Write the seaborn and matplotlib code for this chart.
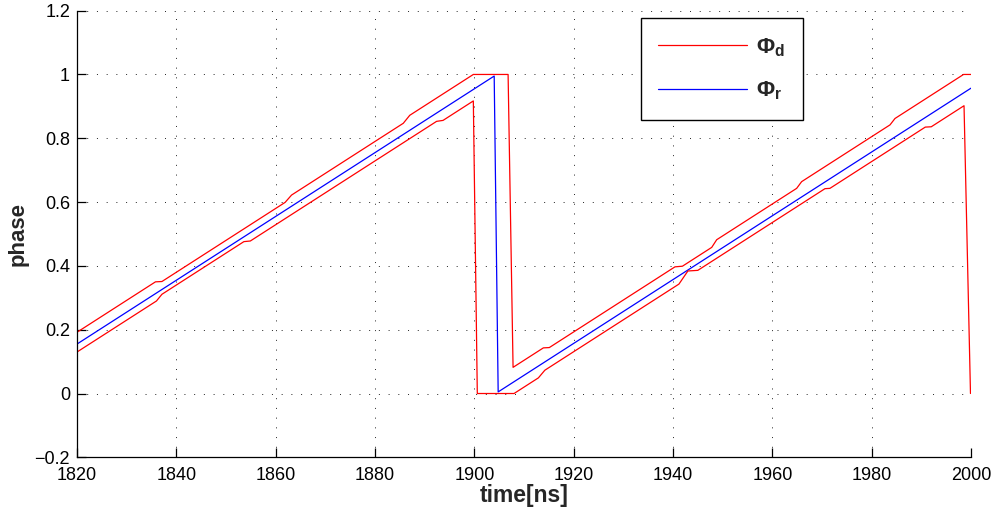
import numpy as np
import pandas as pd
import matplotlib
matplotlib.use("Agg")
import matplotlib.pyplot as plt
import seaborn as sns
from matplotlib.ticker import FuncFormatter

# ---- data ----
t_upper = [1820, 1835.8, 1837.1, 1861.9, 1863.2, 1885.7, 1887.0, 1899.8, 1906.8, 1907.8,
           1913.9, 1915.1, 1940.4, 1941.9, 1947.8, 1948.8, 1964.9, 1965.9, 1983.7, 1984.7,
           1998.5, 2000]
v_upper = [0.192, 0.350, 0.351, 0.599, 0.622, 0.847, 0.872, 1.0, 1.0, 0.082,
           0.143, 0.144, 0.397, 0.399, 0.458, 0.482, 0.643, 0.664, 0.842, 0.862,
           1.0, 1.0]

t_lower = [1820, 1836.0, 1837.1, 1853.6, 1854.9, 1892.4, 1893.7, 1899.8, 1900.6, 1908.0,
           1912.9, 1914.2, 1941.2, 1943.0, 1945.0, 1970.6, 1971.6, 1990.8, 1992.0, 1998.6,
           1999.9]
v_lower = [0.130, 0.290, 0.311, 0.476, 0.478, 0.853, 0.856, 0.917, 0.0, 0.0,
           0.049, 0.073, 0.343, 0.384, 0.386, 0.642, 0.643, 0.835, 0.836, 0.902,
           0.0]

t_r = [1820, 1904.0, 1904.8, 2000]
v_r = [0.155, 0.995, 0.005, 0.957]

x_ticks = [1820, 1840, 1860, 1880, 1900, 1920, 1940, 1960, 1980, 2000]
y_ticks = [-0.2, 0, 0.2, 0.4, 0.6, 0.8, 1.0, 1.2]

label_d = "Φ$_\\mathbf{d}$"
label_r = "Φ$_\\mathbf{r}$"

# ---- style ----
sns.set_theme(style="white")
plt.rcParams["font.family"] = ["Liberation Sans", "DejaVu Sans"]
plt.rcParams["mathtext.fontset"] = "custom"
plt.rcParams["mathtext.rm"] = "Liberation Sans"
plt.rcParams["mathtext.bf"] = "Liberation Sans:bold"
plt.rcParams["mathtext.it"] = "Liberation Sans:italic"

fig = plt.figure(figsize=(9.91, 5.07), dpi=100)
ax = fig.add_axes([0.0777, 0.098, 0.9021, 0.881])

df_up = pd.DataFrame({"t": t_upper, "v": v_upper})
df_lo = pd.DataFrame({"t": t_lower, "v": v_lower})
df_r = pd.DataFrame({"t": t_r, "v": v_r})

lw = 0.9
sns.lineplot(data=df_up, x="t", y="v", sort=False, estimator=None, color="#ff0000",
             linewidth=lw, ax=ax, label=label_d)
sns.lineplot(data=df_r, x="t", y="v", sort=False, estimator=None, color="#0000ff",
             linewidth=lw, ax=ax, label=label_r)
sns.lineplot(data=df_lo, x="t", y="v", sort=False, estimator=None, color="#ff0000",
             linewidth=lw, ax=ax, label="_nolegend_")

ax.set_xlim(1820, 2000)
ax.set_ylim(-0.2, 1.2)
ax.set_xticks(x_ticks)
ax.set_yticks(y_ticks)
ax.yaxis.set_major_formatter(FuncFormatter(lambda v, p: ("%g" % round(v, 2)).replace("-", "\u2212")))

ax.grid(True, color="#222222", linestyle=(0, (1, 9)), linewidth=0.7)
for s in ["top", "right"]:
    ax.spines[s].set_visible(False)
for s in ["left", "bottom"]:
    ax.spines[s].set_color("black")
    ax.spines[s].set_linewidth(0.9)

ax.tick_params(axis="both", which="major", direction="in", length=6.5, width=0.9,
               color="black", labelsize=13, labelcolor="black",
               bottom=True, left=True, top=False, right=False)
ax.tick_params(axis="y", pad=5)
ax.tick_params(axis="x", pad=7)

ax.set_xlabel("time[ns]", fontsize=16.5, fontweight="bold", labelpad=0)
ax.set_ylabel("phase", fontsize=16, fontweight="bold", labelpad=4)

leg = ax.legend(loc="upper left", bbox_to_anchor=(0.6305, 0.983),
                prop={"size": 16, "weight": "bold"},
                frameon=True, fancybox=False, handlelength=4.0, handletextpad=0.4,
                labelspacing=0.95, borderpad=0.8, borderaxespad=0.0)
leg.get_frame().set_edgecolor("black")
leg.get_frame().set_linewidth(1.0)
leg.get_frame().set_facecolor("white")
leg.get_frame().set_alpha(1.0)

fig.savefig("out.png", dpi=100)
